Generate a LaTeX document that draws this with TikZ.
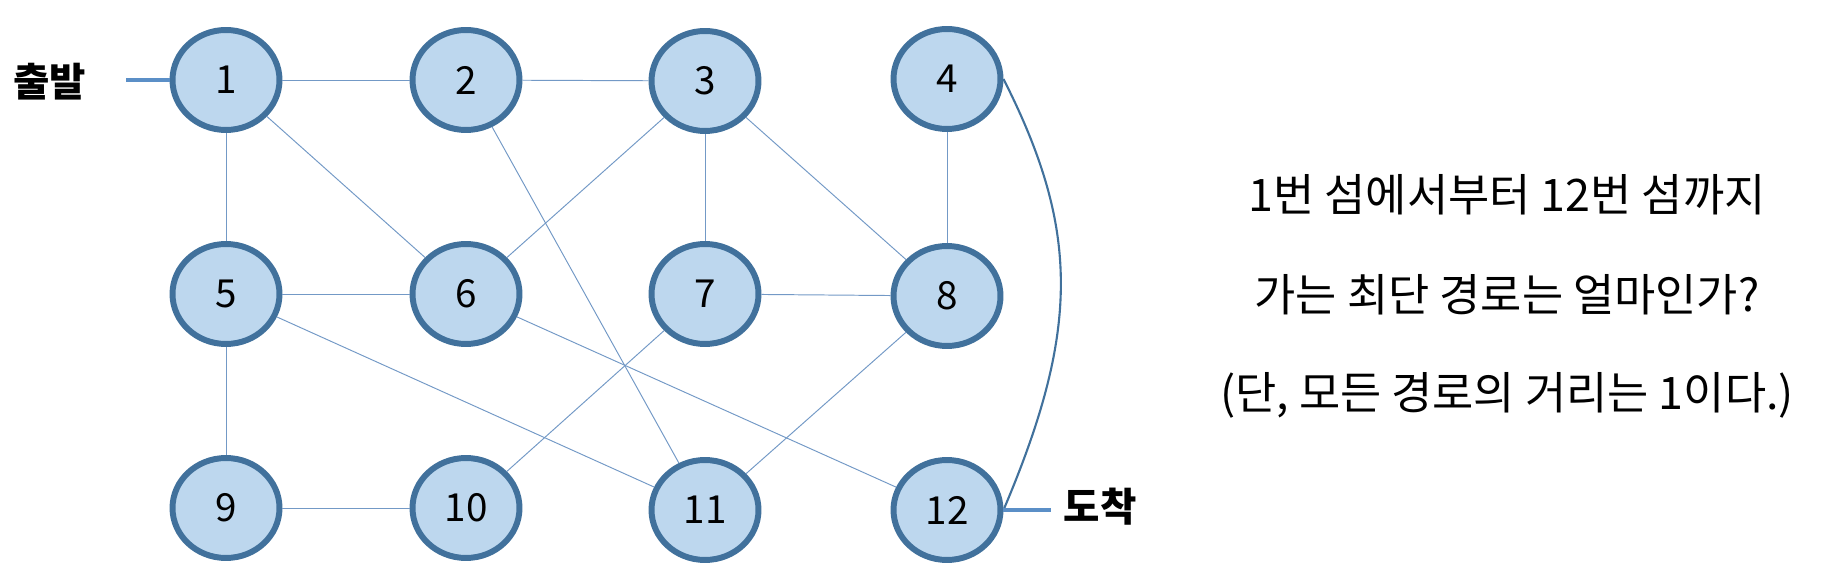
\documentclass[tikz,border=0pt]{standalone}
\usepackage{fontspec}
\usetikzlibrary{shapes.geometric}
\setmainfont{Noto Sans CJK KR}
\definecolor{islandfill}{HTML}{BDD7EE}
\definecolor{islandline}{HTML}{41719C}
\definecolor{bridge}{HTML}{7399C6}
\definecolor{endline}{HTML}{5B8FC7}
\begin{document}
\begin{tikzpicture}[
      x=0.02cm, y=-0.02cm,
      island/.style={
        draw=islandline,
        fill=islandfill,
        ellipse,
        line width=3.4pt,
        minimum width=2.14cm,
        minimum height=2cm,
        inner sep=0pt,
        font=\fontsize{22}{26}\selectfont
      },
      bridgeline/.style={draw=bridge, line width=0.55pt},
      endpoint/.style={font=\fontsize{22.5}{27}\selectfont\bfseries},
      question/.style={font=\fontsize{25.5}{30}\selectfont}
    ]
    \useasboundingbox (0,0) rectangle (1832,580);
    % islands
    \node[island] (n1) at (226,80) {1};
    \node[island] (n2) at (466,80) {2};
    \node[island] (n3) at (705,81) {3};
    \node[island] (n4) at (947,79) {4};
    \node[island] (n5) at (226,294) {5};
    \node[island] (n6) at (466,294) {6};
    \node[island] (n7) at (705,294) {7};
    \node[island] (n8) at (947,296) {8};
    \node[island] (n9) at (226,508) {9};
    \node[island] (n10) at (466,508) {10};
    \node[island] (n11) at (705,510) {11};
    \node[island] (n12) at (947,510) {12};
    % bridges
    \draw[bridgeline] (n1) -- (n2);
    \draw[bridgeline] (n2) -- (n3);
    \draw[bridgeline] (n1) -- (n5);
    \draw[bridgeline] (n1) -- (n6);
    \draw[bridgeline] (n3) -- (n6);
    \draw[bridgeline] (n3) -- (n7);
    \draw[bridgeline] (n3) -- (n8);
    \draw[bridgeline] (n2) -- (n11);
    \draw[bridgeline] (n4) -- (n8);
    \draw[bridgeline] (n5) -- (n6);
    \draw[bridgeline] (n7) -- (n8);
    \draw[bridgeline] (n5) -- (n9);
    \draw[bridgeline] (n5) -- (n11);
    \draw[bridgeline] (n6) -- (n12);
    \draw[bridgeline] (n7) -- (n10);
    \draw[bridgeline] (n8) -- (n11);
    \draw[bridgeline] (n9) -- (n10);
    \draw[islandline, line width=1.2pt] (n4.east) .. controls (1080,230) and (1080,330) .. (n12.east);
    % start and goal
    \node[endpoint] (start) at (50,82) {출발};
    \coordinate (startend) at (126,80);
    \draw[endline, line width=1.8pt] (startend) -- (n1.west);
    \node[endpoint] (goal) at (1100,507) {도착};
    \coordinate (goalend) at (1051,510);
    \draw[endline, line width=1.8pt] (n12.east) -- (goalend);
    % question
    \node[question] (q1) at (1507,195) {1번 섬에서부터 12번 섬까지};
    \node[question] (q2) at (1507,295) {가는 최단 경로는 얼마인가?};
    \node[question] (q3) at (1507,395) {(단, 모든 경로의 거리는 1이다.)};
  \end{tikzpicture}
\end{document}
